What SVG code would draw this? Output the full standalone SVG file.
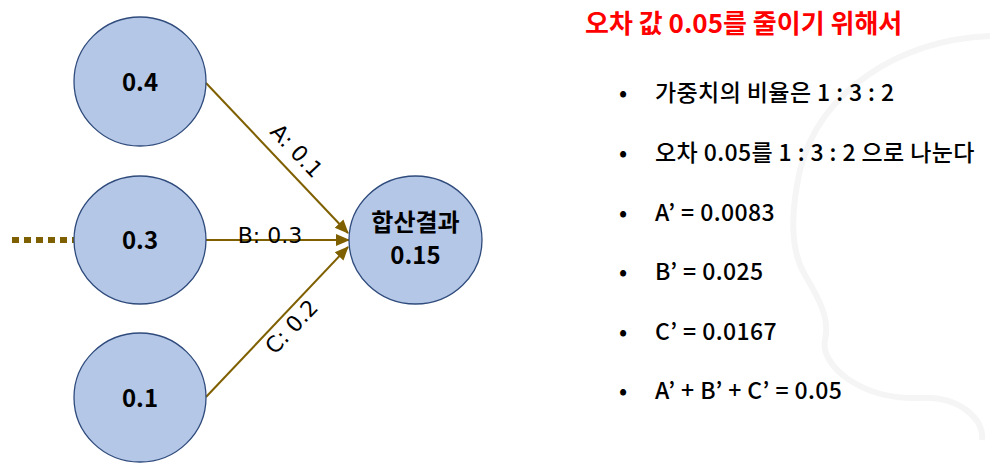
<svg xmlns="http://www.w3.org/2000/svg" width="990" height="470" viewBox="0 0 990 470">
<defs>
<marker id="ah" markerWidth="14" markerHeight="14" refX="13" refY="7" orient="auto" markerUnits="userSpaceOnUse" viewBox="0 0 14 14">
<path d="M0,1 L14,7 L0,13 z" fill="#7f6000"/>
</marker>
<style>
.node{fill:#b4c7e7;stroke:#2f4b7c;stroke-width:1.3}
.nt{font-family:"Noto Sans CJK KR","Noto Sans",sans-serif;font-weight:bold;font-size:24px;fill:#000;text-anchor:middle}
.edge{stroke:#7f6000;stroke-width:2;fill:none}
.dots{stroke:#7f6000;stroke-width:6;stroke-dasharray:7,5;fill:none}
.el{font-family:"DejaVu Sans",sans-serif;font-size:22px;fill:#000;text-anchor:middle}
.bl{font-family:"Noto Sans CJK KR","Noto Sans",sans-serif;font-weight:500;font-size:23px;letter-spacing:0.4px;fill:#000}
.title{font-family:"Noto Sans CJK KR","Noto Sans",sans-serif;font-weight:bold;font-size:26px;fill:#ff0000}
</style>
</defs>
<rect width="990" height="470" fill="#ffffff"/>
<path d="M990,36 C900,40 820,90 800,170 C790,215 790,250 805,275 C820,300 830,320 825,340 C820,365 860,400 920,398 C960,396 985,420 982,440" fill="none" stroke="#f5f5f5" stroke-width="6"/>
<g id="connectors">
<line class="dots" x1="12" y1="240" x2="74" y2="240"/>
<line class="edge" x1="206" y1="83" x2="348" y2="233" marker-end="url(#ah)"/>
<line class="edge" x1="206" y1="240" x2="349" y2="240" marker-end="url(#ah)"/>
<line class="edge" x1="206" y1="397" x2="348" y2="247" marker-end="url(#ah)"/>
<text class="el" transform="translate(291,156) rotate(46.6)">A: 0.1</text>
<text class="el" x="270" y="243">B: 0.3</text>
<text class="el" transform="translate(297,332) rotate(-46.6)">C: 0.2</text>
</g>
<g id="n04"><ellipse class="node" cx="140" cy="81.5" rx="66" ry="64.5"/><text class="nt" x="140" y="91">0.4</text></g>
<g id="n03"><ellipse class="node" cx="140" cy="240" rx="66" ry="64"/><text class="nt" x="140" y="249">0.3</text></g>
<g id="n01"><ellipse class="node" cx="140" cy="397.5" rx="66" ry="64.5"/><text class="nt" x="140" y="407">0.1</text></g>
<g id="sum"><ellipse class="node" cx="415.5" cy="240" rx="66.5" ry="64"/><text class="nt" x="415.5" y="231" font-size="18">합산결과</text><text class="nt" x="415.5" y="264" font-size="20">0.15</text></g>
<g id="text">
<text class="title" x="585" y="33">오차 값 0.05를 줄이기 위해서</text>
<g class="bl">
<text x="619" y="101">•</text><text x="655" y="101">가중치의 비율은 1 : 3 : 2</text>
<text x="619" y="161">•</text><text x="655" y="161">오차 0.05를 1 : 3 : 2 으로 나눈다</text>
<text x="619" y="221">•</text><text x="655" y="221">A’ = 0.0083</text>
<text x="619" y="280">•</text><text x="655" y="280">B’ = 0.025</text>
<text x="619" y="340">•</text><text x="655" y="340">C’ = 0.0167</text>
<text x="619" y="399">•</text><text x="655" y="399">A’ + B’ + C’ = 0.05</text>
</g>
</g>
</svg>
